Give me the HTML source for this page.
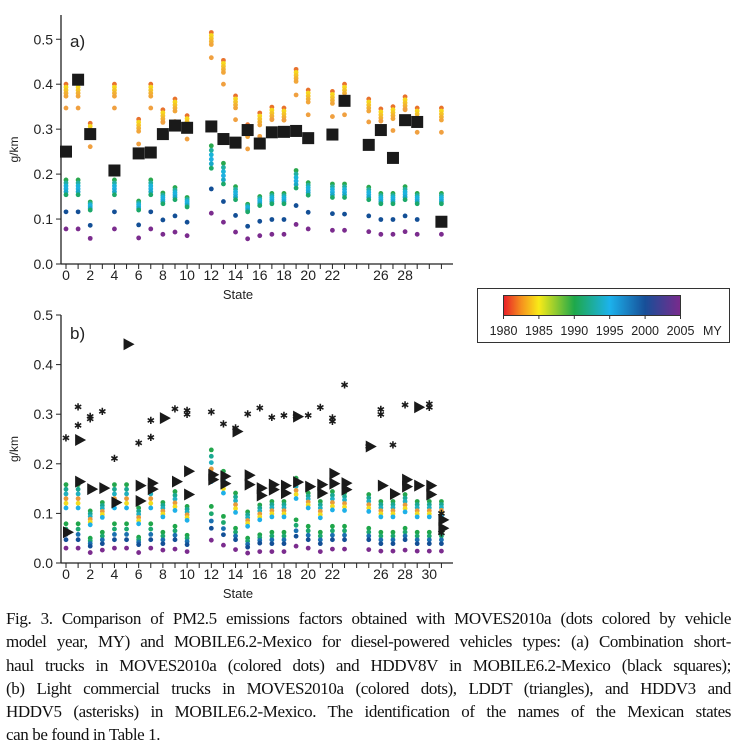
<!DOCTYPE html>
<html><head><meta charset="utf-8"><style>
body{margin:0;background:#fff;width:737px;height:746px;overflow:hidden;position:relative}
svg{position:absolute;left:0;top:0}
#cap{position:absolute;left:6px;top:607px;width:725px;font-family:"Liberation Serif",serif;font-size:17px;line-height:23.3px;color:#111;letter-spacing:-0.4px}
#cap div{text-align:justify;text-align-last:justify;white-space:nowrap}
#cap div.last{text-align-last:left}
</style></head><body>
<svg id="chart" width="737" height="600" font-family="Liberation Sans, sans-serif"></svg>
<div id="cap">
<div>Fig. 3. Comparison of PM2.5 emissions factors obtained with MOVES2010a (dots colored by vehicle</div>
<div>model year, MY) and MOBILE6.2-Mexico for diesel-powered vehicles types: (a) Combination short-</div>
<div>haul trucks in MOVES2010a (colored dots) and HDDV8V in MOBILE6.2-Mexico (black squares);</div>
<div>(b) Light commercial trucks in MOVES2010a (colored dots), LDDT (triangles), and HDDV3 and</div>
<div>HDDV5 (asterisks) in MOBILE6.2-Mexico. The identification of the names of the Mexican states</div>
<div class="last">can be found in Table 1.</div>
</div>
<script>
// Panel a data
const aStates=[0,1,2,4,6,7,8,9,10,12,13,14,15,16,17,18,19,20,22,23,25,26,27,28,29,31];
const aOrangeTop=[.40,.40,.313,.40,.322,.40,.343,.367,.33,.515,.453,.374,.31,.336,.349,.347,.433,.387,.384,.40,.367,.345,.35,.372,.347,.347];
const aOrangeLow=[.347,.347,.261,.347,.267,.347,.315,.317,.278,.459,.40,.321,.256,.284,.321,.32,.376,.332,.328,.332,.316,.318,.297,.343,.293,.293];
const aGreenTop=[.187,.187,.138,.187,.14,.187,.158,.17,.148,.263,.224,.172,.133,.15,.157,.157,.208,.181,.178,.178,.171,.157,.157,.172,.157,.157];
const aCyanLow=[.154,.154,.12,.154,.12,.154,.134,.143,.127,.213,.178,.143,.116,.13,.134,.134,.169,.153,.148,.148,.143,.134,.134,.143,.134,.134];
const aBlue=[.116,.116,.086,.116,.087,.116,.098,.107,.093,.167,.139,.108,.084,.095,.099,.099,.13,.115,.112,.111,.107,.099,.099,.107,.099,.099];
const aPurple=[.078,.078,.057,.078,.058,.078,.066,.071,.063,.113,.093,.071,.056,.063,.066,.066,.088,.078,.075,.075,.072,.066,.066,.072,.066,.066];
const aSquare=[.25,.41,.289,.208,.246,.248,.289,.308,.303,.306,.278,.27,.298,.268,.293,.294,.296,.28,.288,.363,.265,.298,.236,.32,.316,.094];
// Panel b data
const bStates=[0,1,2,3,4,5,6,7,8,9,10,12,13,14,15,16,17,18,19,20,21,22,23,25,26,27,28,29,30,31];
const bUpTop=[.158,.158,.105,.122,.158,.158,.111,.158,.122,.144,.114,.228,.185,.141,.103,.117,.124,.124,.171,.141,.124,.144,.141,.138,.124,.124,.138,.124,.124,.124];
const bUpLow=[.111,.111,.077,.092,.111,.111,.079,.111,.093,.106,.086,.164,.141,.102,.074,.087,.093,.093,.13,.111,.091,.107,.106,.104,.093,.093,.103,.093,.093,.094];
const bLowTop=[.079,.079,.05,.062,.079,.079,.052,.079,.062,.074,.056,.114,.094,.07,.05,.057,.062,.062,.087,.074,.062,.074,.074,.07,.062,.062,.07,.062,.062,.062];
const bLowBot=[.047,.047,.034,.039,.047,.047,.037,.047,.039,.047,.037,.07,.057,.047,.032,.04,.039,.039,.054,.047,.039,.047,.047,.047,.039,.039,.047,.039,.039,.039];
const bPurple=[.03,.03,.021,.026,.03,.03,.021,.03,.026,.028,.023,.046,.036,.027,.02,.023,.023,.023,.034,.03,.023,.028,.028,.027,.024,.024,.026,.024,.024,.024];
const triState=[0,1,1,2,3,4,5,6,6,7,7,8,9,10,10,12,12,13,13,14,15,15,16,16,17,17,18,18,19,19,20,21,21,22,22,23,23,25,26,27,28,28,29,29,30,30,31,31];
const triVal=[.062,.164,.248,.149,.151,.122,.441,.156,.125,.161,.149,.292,.164,.185,.138,.178,.168,.175,.16,.265,.177,.158,.151,.136,.158,.148,.156,.141,.163,.295,.154,.158,.141,.18,.16,.161,.148,.235,.156,.139,.168,.154,.314,.156,.156,.138,.087,.07];
const astState=[0,1,1,2,2,3,4,6,7,7,9,10,10,12,13,14,15,16,17,18,19,20,21,22,22,23,25,26,26,27,28,30,30,31,31];
const astVal=[.252,.315,.277,.295,.29,.305,.211,.242,.287,.253,.31,.307,.299,.304,.28,.272,.30,.312,.293,.297,.295,.297,.314,.292,.285,.359,.235,.309,.299,.238,.319,.321,.314,.10,.06];
const yTicks=[0,0.1,0.2,0.3,0.4,0.5];
const xLabA=[0,2,4,6,8,10,12,14,16,18,20,22,26,28];
const xLabB=[0,2,4,6,8,10,12,14,16,18,20,22,26,28,30];
const cbYears=[1980,1985,1990,1995,2000,2005];

const svg=document.getElementById('chart');
const NS='http://www.w3.org/2000/svg';
function mk(tag,at,parent){const e=document.createElementNS(NS,tag);for(const k in at)e.setAttribute(k,at[k]);(parent||svg).appendChild(e);return e;}
const xs=s=>66+s*12.11;
const ya=v=>264-v*449.5;
const yb=v=>563-v*496;

function axes(y,top,labs,name,lab,laby){
  const g=mk('g',{});
  
  
  mk('line',{x1:61,y1:top,x2:61,y2:y(0),stroke:'#222','stroke-width':1.3},g);
  mk('line',{x1:61,y1:y(0),x2:453,y2:y(0),stroke:'#222','stroke-width':1.3},g);
  yTicks.forEach(t=>{
    mk('line',{x1:56,y1:y(t),x2:61,y2:y(t),stroke:'#222'},g);
    const tx=mk('text',{x:53,y:y(t)+5,'text-anchor':'end','font-size':14,fill:'#222'},g);tx.textContent=t.toFixed(1);
    
    
  });
  for(let s=0;s<=31;s++)mk('line',{x1:xs(s),y1:y(0),x2:xs(s),y2:y(0)+5,stroke:'#222'},g);
  labs.forEach(s=>{const tx=mk('text',{x:xs(s),y:y(0)+16,'text-anchor':'middle','font-size':14,fill:'#222'},g);tx.textContent=s;
    
    });
  const st=mk('text',{x:238,y:y(0)+35,'text-anchor':'middle','font-size':13,fill:'#222'},g);st.textContent='State';
  
  
  const yl=mk('text',{x:0,y:0,'text-anchor':'middle','font-size':12,fill:'#222',transform:`translate(18,${(top+y(0))/2+10}) rotate(-90)`},g);yl.textContent='g/km';
  
  
  const pl=mk('text',{x:70,y:laby,'font-size':17,fill:'#222'},g);pl.textContent=lab;
  
  
}
function dot(x,y,c,g){const d=mk('circle',{cx:x,cy:y,r:2.4,fill:c},g);
  
  }
function stack(x,y1,y2,cols,g){const n=cols.length;cols.forEach((c,i)=>dot(x,y1+(y2-y1)*i/(n-1),c,g));}

axes(ya,15,xLabA,'panel-a','a)',47);
axes(yb,315,xLabB,'panel-b','b)',339);

const ga=mk('g',{});


aStates.forEach((s,i)=>{
  const x=xs(s),t=ya(aOrangeTop[i]);
  ['#e8722c','#f7d81c','#f4c428','#f2b232','#f1a63a'].forEach((c,k)=>dot(x,t+k*3,c,ga));
  dot(x,ya(aOrangeLow[i]),'#f0a040',ga);
  stack(x,ya(aGreenTop[i]),ya(aCyanLow[i]),['#2aa84e','#22b0a0','#1ab4d8','#1eb0e0','#18a8c8','#1ca86a'],ga);
  dot(x,ya(aBlue[i]),'#134f96',ga);
  dot(x,ya(aPurple[i]),'#7b2c8e',ga);
  const q=mk('rect',{x:x-6,y:ya(aSquare[i])-6,width:12,height:12,fill:'#1a1a1a'},ga);
  
  
});
const gb=mk('g',{});


bStates.forEach((s,i)=>{
  const x=xs(s);
  stack(x,yb(bUpTop[i]),yb(bUpLow[i]),['#24a64c','#1aa890','#20b0c0','#e89a3a','#f2dc20','#1eb0e8'],gb);
  stack(x,yb(bLowTop[i]),yb(bLowBot[i]),['#1fa64a','#1ca86e','#1a70b0','#134f96'],gb);
  dot(x,yb(bPurple[i]),'#7b2c8e',gb);
});
astState.forEach((s,i)=>{
  const t=mk('text',{x:xs(s),y:yb(astVal[i])+3.5,'text-anchor':'middle','font-size':10,fill:'#1a1a1a'},gb);t.textContent='✱';
  
  
});
triState.forEach((s,i)=>{
  const x=xs(s)+2,y=yb(triVal[i]);
  const p=mk('polygon',{points:`${x-5},${y-6} ${x+6},${y} ${x-5},${y+6}`,fill:'#1a1a1a'},gb);
  
  
});

// colorbar legend
const gl=mk('g',{});


const defs=mk('defs',{});
const lg=mk('linearGradient',{id:'cb',x1:0,x2:1,y1:0,y2:0},defs);
[['0','#e81e28'],['0.1','#f5901e'],['0.2','#f8ea18'],['0.4','#1ea84a'],['0.6','#1cb2ec'],['0.8','#174f98'],['1','#7a2a8c']].forEach(([o,c])=>mk('stop',{offset:o,'stop-color':c},lg));
mk('rect',{x:477.5,y:288.5,width:252,height:54,fill:'none',stroke:'#333'},gl);
mk('rect',{x:503.5,y:295.5,width:177,height:20,fill:'url(#cb)',stroke:'#333'},gl);
cbYears.forEach(yr=>{
  const x=503.5+(yr-1980)/25*177;
  mk('line',{x1:x,y1:315,x2:x,y2:319,stroke:'#333'},gl);
  const t=mk('text',{x:x,y:335,'text-anchor':'middle','font-size':12.5,fill:'#222'},gl);t.textContent=yr;
  
  
});
const my=mk('text',{x:703,y:335,'font-size':12.5,fill:'#222'},gl);my.textContent='MY';


</script>
</body></html>
